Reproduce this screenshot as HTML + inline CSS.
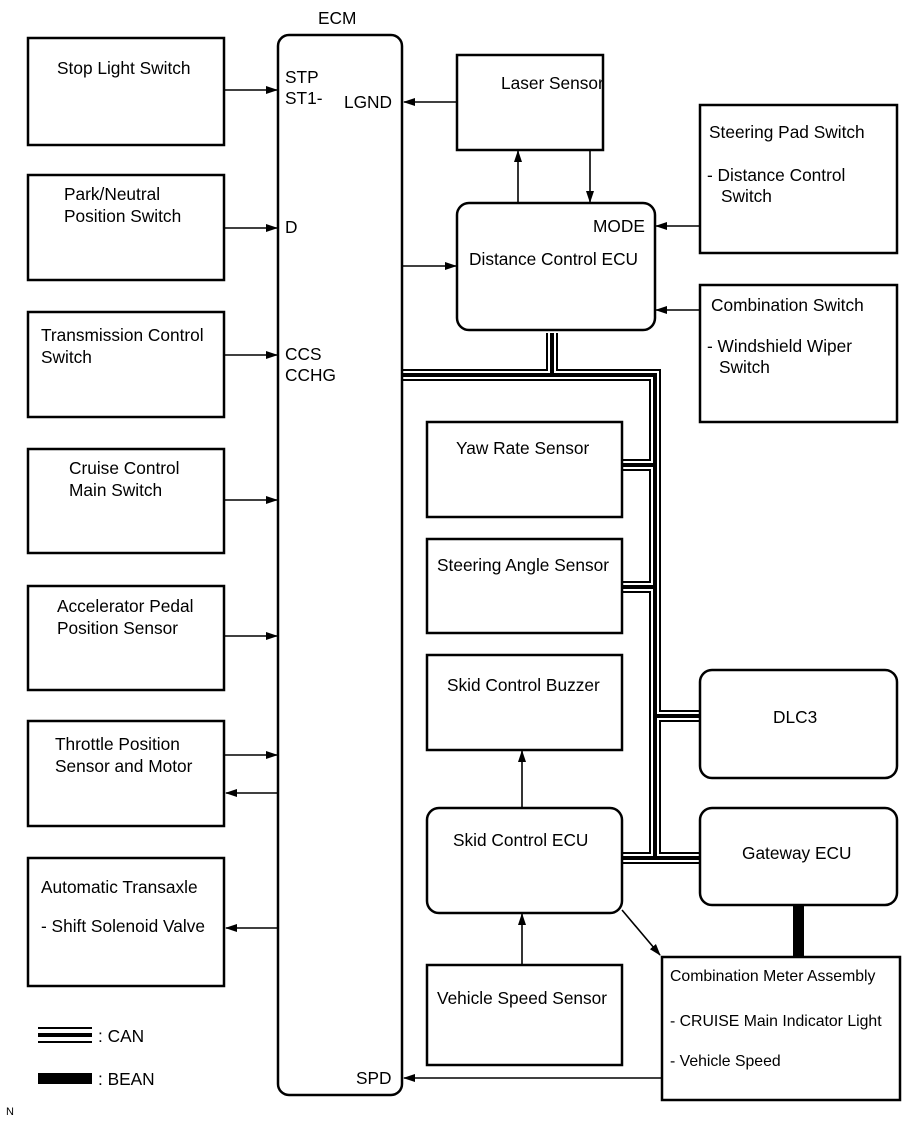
<!DOCTYPE html>
<html><head><style>
body{margin:0;background:#fff}
svg{display:block}
text{font-family:"Liberation Sans",Arial,sans-serif;font-size:17.3px;fill:#000}
.b{fill:#fff;stroke:#000;stroke-width:2.5}
.l{stroke:#000;stroke-width:1.6;fill:none}
.m{font-size:15.8px}
</style></head><body>
<svg width="907" height="1122" viewBox="0 0 907 1122" xmlns="http://www.w3.org/2000/svg">
<defs><marker id="a" markerWidth="12" markerHeight="8" refX="11" refY="4" orient="auto" markerUnits="userSpaceOnUse"><path d="M0,0 L12,4 L0,8 Z" fill="#000"/></marker></defs>
<g fill="none">
<path d="M402,375 H655 V858 M552,333 V375 M622,465 H655 M622,587 H655 M655,716 H700 M622,858 H700" stroke="#000" stroke-width="12"/>
<path d="M402,375 H655 V858 M552,333 V375 M622,465 H655 M622,587 H655 M655,716 H700 M622,858 H700" stroke="#fff" stroke-width="8"/>
<path d="M402,375 H655 V858 M552,333 V375 M622,465 H655 M622,587 H655 M655,716 H700 M622,858 H700" stroke="#000" stroke-width="4"/>
</g>
<rect x="793" y="903" width="11" height="56" fill="#000"/>
<rect class="b" x="28" y="38" width="196" height="107"/>
<text x="57" y="74">Stop Light Switch</text>
<rect class="b" x="28" y="175" width="196" height="105"/>
<text x="64" y="200">Park/Neutral</text><text x="64" y="222">Position Switch</text>
<rect class="b" x="28" y="312" width="196" height="105"/>
<text x="41" y="341">Transmission Control</text><text x="41" y="363">Switch</text>
<rect class="b" x="28" y="449" width="196" height="104"/>
<text x="69" y="474">Cruise Control</text><text x="69" y="496">Main Switch</text>
<rect class="b" x="28" y="586" width="196" height="104"/>
<text x="57" y="612">Accelerator Pedal</text><text x="57" y="634">Position Sensor</text>
<rect class="b" x="28" y="721" width="196" height="105"/>
<text x="55" y="750">Throttle Position</text><text x="55" y="772">Sensor and Motor</text>
<rect class="b" x="28" y="858" width="196" height="128"/>
<text x="41" y="893">Automatic Transaxle</text><text x="41" y="932">- Shift Solenoid Valve</text>
<rect class="b" x="278" y="35" width="124" height="1060" rx="11"/>
<text x="318" y="24">ECM</text>
<text x="285" y="83">STP</text><text x="285" y="104">ST1-</text>
<text x="344" y="108">LGND</text>
<text x="285" y="233">D</text>
<text x="285" y="360">CCS</text><text x="285" y="381">CCHG</text>
<text x="356" y="1084">SPD</text>
<rect class="b" x="457" y="55" width="146" height="95"/>
<text x="501" y="89">Laser Sensor</text>
<rect class="b" x="457" y="203" width="198" height="127" rx="12"/>
<text x="593" y="232">MODE</text>
<text x="469" y="265">Distance Control ECU</text>
<rect class="b" x="700" y="105" width="197" height="148"/>
<text x="709" y="138">Steering Pad Switch</text>
<text x="707" y="181">- Distance Control</text><text x="721" y="202">Switch</text>
<rect class="b" x="700" y="285" width="197" height="137"/>
<text x="711" y="311">Combination Switch</text>
<text x="707" y="352">- Windshield Wiper</text><text x="719" y="373">Switch</text>
<rect class="b" x="427" y="422" width="195" height="95"/>
<text x="456" y="454">Yaw Rate Sensor</text>
<rect class="b" x="427" y="539" width="195" height="94"/>
<text x="437" y="571">Steering Angle Sensor</text>
<rect class="b" x="427" y="655" width="195" height="95"/>
<text x="447" y="691">Skid Control Buzzer</text>
<rect class="b" x="427" y="808" width="195" height="105" rx="12"/>
<text x="453" y="846">Skid Control ECU</text>
<rect class="b" x="427" y="965" width="195" height="100"/>
<text x="437" y="1004">Vehicle Speed Sensor</text>
<rect class="b" x="700" y="670" width="197" height="108" rx="12"/>
<text x="773" y="723">DLC3</text>
<rect class="b" x="700" y="808" width="197" height="97" rx="12"/>
<text x="742" y="859">Gateway ECU</text>
<rect class="b" x="662" y="957" width="238" height="143"/>
<text x="670" y="981" class="m">Combination Meter Assembly</text>
<text x="670" y="1026" class="m">- CRUISE Main Indicator Light</text>
<text x="670" y="1066" class="m">- Vehicle Speed</text>
<g class="l" marker-end="url(#a)">
<line x1="224" y1="90" x2="277" y2="90"/>
<line x1="224" y1="228" x2="277" y2="228"/>
<line x1="224" y1="355" x2="277" y2="355"/>
<line x1="224" y1="500" x2="277" y2="500"/>
<line x1="224" y1="636" x2="277" y2="636"/>
<line x1="224" y1="755" x2="277" y2="755"/>
<line x1="278" y1="793" x2="226" y2="793"/>
<line x1="278" y1="928" x2="226" y2="928"/>
<line x1="457" y1="102" x2="404" y2="102"/>
<line x1="402" y1="266" x2="456" y2="266"/>
<line x1="518" y1="203" x2="518" y2="151"/>
<line x1="590" y1="150" x2="590" y2="202"/>
<line x1="700" y1="226" x2="656" y2="226"/>
<line x1="700" y1="310" x2="656" y2="310"/>
<line x1="522" y1="808" x2="522" y2="751"/>
<line x1="522" y1="965" x2="522" y2="914"/>
<line x1="622" y1="910" x2="660" y2="955"/>
<line x1="662" y1="1078" x2="404" y2="1078"/>
</g>
<rect x="38" y="1027" width="54" height="2" fill="#000"/>
<rect x="38" y="1033" width="54" height="4" fill="#000"/>
<rect x="38" y="1041" width="54" height="2" fill="#000"/>
<text x="98" y="1042">: CAN</text>
<rect x="38" y="1073" width="54" height="11" fill="#000"/>
<text x="98" y="1085">: BEAN</text>
<text x="6" y="1115" style="font-size:11px">N</text>
</svg>
</body></html>
